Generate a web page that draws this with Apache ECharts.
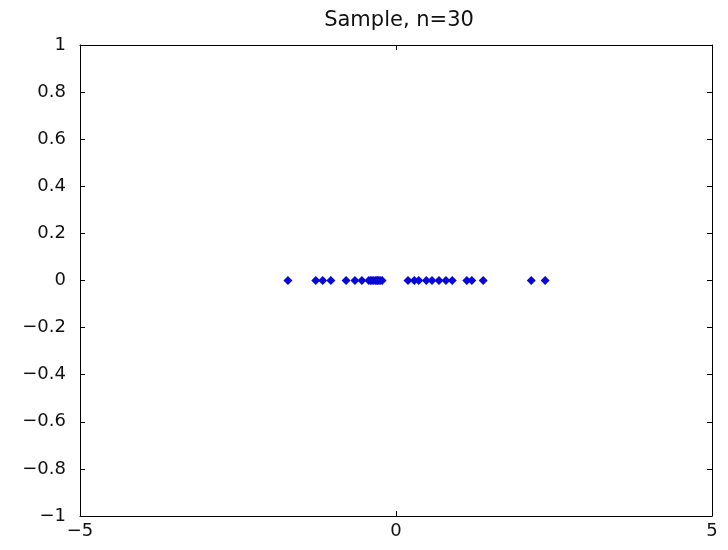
<!DOCTYPE html>
<html><head><meta charset="utf-8">
<script src="https://cdn.jsdelivr.net/npm/echarts@6/dist/echarts.min.js"></script>
<style>html,body{margin:0;padding:0;background:#fff}#c{width:728px;height:550px}</style>
</head><body><div id="c"></div>
<script>
const title = 'Sample, n=30';
const xValues = [-1.71, -1.27, -1.16, -1.03, -0.79, -0.65, -0.54,
  -0.43, -0.40, -0.38, -0.35, -0.32, -0.30, -0.29, -0.27, -0.25, -0.22,
  0.19, 0.29, 0.36, 0.48, 0.57, 0.68, 0.79, 0.89, 1.12, 1.20, 1.38, 2.14, 2.36];
const yValues = xValues.map(() => 0);
const xTicks = [-5, 0, 5];
const yTicks = [-1, -0.8, -0.6, -0.4, -0.2, 0, 0.2, 0.4, 0.6, 0.8, 1];

const fmt = v => {
  const s = String(Math.round(v * 10) / 10);
  return s.replace('-', '\u2212');
};
const font = 'DejaVu Sans, sans-serif';
const lab = { color: '#111', fontSize: 18, fontFamily: font };
const line = { show: true, onZero: false, lineStyle: { color: '#000', width: 1 } };
const tick = { show: true, inside: true, length: 5, lineStyle: { color: '#000' } };

const chart = echarts.init(document.getElementById('c'));
chart.setOption({
  animation: false,
  backgroundColor: '#fff',
  title: { text: title, left: 394, top: 5, textAlign: 'center',
    textStyle: { fontSize: 21, fontWeight: 'normal', color: '#111', fontFamily: font } },
  grid: { left: 80, right: 16, top: 45, bottom: 34, containLabel: false },
  xAxis: [
    { type: 'value', min: xTicks[0], max: xTicks[xTicks.length - 1], interval: 5,
      axisLine: line, axisTick: tick, splitLine: { show: false },
      axisLabel: Object.assign({ formatter: fmt, margin: 6 }, lab) },
    { type: 'value', position: 'top', min: -5, max: 5, interval: 5,
      axisLine: line, axisTick: tick, splitLine: { show: false }, axisLabel: { show: false } }
  ],
  yAxis: [
    { type: 'value', min: yTicks[0], max: yTicks[yTicks.length - 1], interval: 0.2,
      axisLine: line, axisTick: tick, splitLine: { show: false },
      axisLabel: Object.assign({ formatter: fmt, margin: 14 }, lab) },
    { type: 'value', position: 'right', min: -1, max: 1, interval: 0.2,
      axisLine: line, axisTick: tick, splitLine: { show: false }, axisLabel: { show: false } }
  ],
  series: [{
    type: 'scatter',
    xAxisIndex: 0, yAxisIndex: 0,
    data: xValues.map((x, i) => [x, yValues[i]]),
    symbol: 'diamond',
    symbolSize: 9,
    itemStyle: { color: '#0808d8', opacity: 1 }
  }]
});
</script></body></html>
